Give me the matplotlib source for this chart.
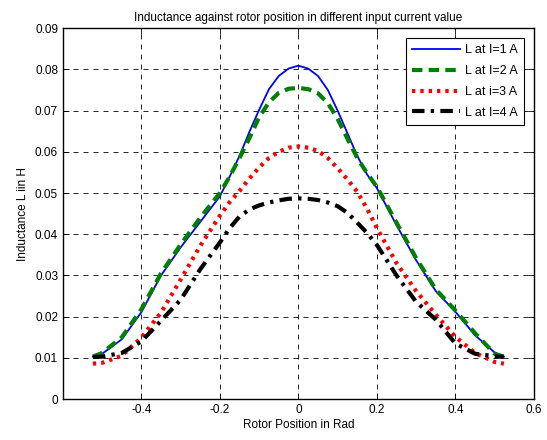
import numpy as np
import matplotlib
matplotlib.use('Agg')
import matplotlib.pyplot as plt

# Posicion del rotor (rad)
theta = [-0.5236, -0.5, -0.45, -0.4, -0.35, -0.3, -0.25, -0.2, -0.175, -0.15, -0.125, -0.1, -0.075,
         -0.05, -0.025, 0.0, 0.025, 0.05, 0.075, 0.1, 0.125, 0.15, 0.175, 0.2, 0.25, 0.3, 0.35, 0.4,
         0.45, 0.5, 0.5236]

# Inductancia (H) para cada corriente
L_1A = [0.0103, 0.0110, 0.0145, 0.0211, 0.0300, 0.0368, 0.0430, 0.0492, 0.0540, 0.0590, 0.0648,
        0.0702, 0.0752, 0.0784, 0.0802, 0.0809, 0.0802, 0.0784, 0.0750, 0.0700, 0.0645, 0.0590,
        0.0545, 0.0512, 0.0422, 0.0337, 0.0262, 0.0212, 0.0155, 0.0113, 0.0103]
L_2A = [0.0103, 0.0112, 0.0150, 0.0218, 0.0305, 0.0375, 0.0440, 0.0500, 0.0540, 0.0585, 0.0633,
        0.0684, 0.0720, 0.0743, 0.0753, 0.0755, 0.0752, 0.0742, 0.0718, 0.0680, 0.0632, 0.0585,
        0.0548, 0.0515, 0.0428, 0.0342, 0.0266, 0.0215, 0.0160, 0.0110, 0.0103]
L_3A = [0.0086, 0.0088, 0.0105, 0.0149, 0.0210, 0.0290, 0.0372, 0.0445, 0.0478, 0.0505, 0.0535,
        0.0562, 0.0585, 0.0600, 0.0610, 0.0613, 0.0610, 0.0602, 0.0585, 0.0560, 0.0533, 0.0503,
        0.0462, 0.0415, 0.0330, 0.0262, 0.0205, 0.0151, 0.0112, 0.0090, 0.0086]
L_4A = [0.0102, 0.0103, 0.0112, 0.0140, 0.0190, 0.0241, 0.0315, 0.0380, 0.0415, 0.0443, 0.0460,
        0.0470, 0.0477, 0.0482, 0.0486, 0.0487, 0.0486, 0.0483, 0.0477, 0.0468, 0.0452, 0.0428,
        0.0403, 0.0374, 0.0300, 0.0236, 0.0193, 0.0135, 0.0110, 0.0104, 0.0102]

labels = ['L at I=1 A', 'L at I=2 A', 'L at i=3 A', 'L at I=4 A']

plt.rcParams['font.family'] = ['Liberation Sans', 'DejaVu Sans']
plt.rcParams['font.size'] = 8

fig = plt.figure(figsize=(5.47, 4.40), dpi=100)
ax = fig.add_axes([0.115, 0.093, 0.861, 0.843])

ax.plot(theta, L_1A, color='blue', linestyle='-', linewidth=1.3, label=labels[0])
ax.plot(theta, L_2A, color=(0, 0.5, 0), linestyle=(0, (2.5, 1.5)), linewidth=3, label=labels[1])
ax.plot(theta, L_3A, color='red', linestyle=(0, (0.8, 1.2)), linewidth=3, label=labels[2])
ax.plot(theta, L_4A, color='black', linestyle=(0, (3, 1.5, 0.8, 1.5)), linewidth=3, label=labels[3])

ax.set_xlim(-0.6, 0.6)
ax.set_ylim(0, 0.09)
ax.set_xticks([-0.4, -0.2, 0, 0.2, 0.4, 0.6])
ax.set_xticklabels(['-0.4', '-0.2', '0', '0.2', '0.4', '0.6'])
ax.set_yticks(np.arange(0, 0.091, 0.01))
ax.set_yticklabels(['0', '0.01', '0.02', '0.03', '0.04', '0.05', '0.06', '0.07', '0.08', '0.09'])
ax.tick_params(direction='in', top=True, right=True, length=4, width=0.6, labelsize=8.5)

ax.grid(True, color='black', linestyle=(0, (6, 6)), linewidth=0.6)
for s in ax.spines.values():
    s.set_linewidth(1.0)

ax.set_title('Inductance against rotor position in different input current value', fontsize=8.5, pad=5)
ax.set_xlabel('Rotor Position in Rad', fontsize=8.5, labelpad=2)
ax.set_ylabel('Inductance L iin H', fontsize=8.5)

leg = ax.legend(loc='upper right', fontsize=9, handlelength=3.8, handletextpad=0.4, fancybox=False,
                framealpha=1, edgecolor='black', borderaxespad=0.8, labelspacing=0.7,
                borderpad=0.5)
leg.get_frame().set_linewidth(0.8)

plt.savefig('out.png', dpi=100)
